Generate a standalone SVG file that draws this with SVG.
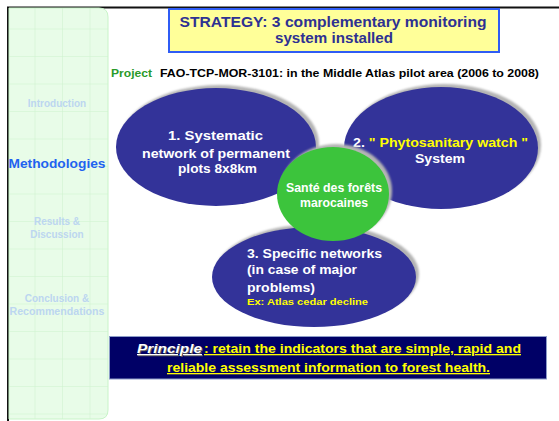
<svg xmlns="http://www.w3.org/2000/svg" width="559" height="421" viewBox="0 0 559 421">
  <style>
    .side { font-family: "Liberation Sans", Arial, sans-serif; font-size: 10px; font-weight: bold; text-anchor: middle; fill: #bcd6f0; }
    .sideOn { font-family: "Liberation Sans", Arial, sans-serif; font-size: 12.5px; font-weight: bold; text-anchor: middle; fill: #1f63f0; }
    .title { font-family: "Liberation Sans", Arial, sans-serif; font-size: 15px; font-weight: bold; text-anchor: middle; fill: #2e3192; }
    .proj { font-family: "Liberation Sans", Arial, sans-serif; font-size: 10px; font-weight: bold; }
    .node { fill: #333399; }
    .shadow { fill: #b4b4b4; }
    .w { font-family: "Liberation Sans", Arial, sans-serif; font-size: 12.5px; font-weight: bold; fill: #ffffff; }
    .y { font-family: "Liberation Sans", Arial, sans-serif; font-weight: bold; fill: #ffff00; }
    .pr { font-family: "Liberation Sans", Arial, sans-serif; font-size: 13px; font-weight: bold; text-decoration: underline; }
  </style>
  <defs>
    <pattern id="grid" width="27.5" height="27.5" patternUnits="userSpaceOnUse" x="8" y="2">
      <rect width="27.5" height="27.5" fill="#e8fce8"/>
      <path d="M27.5 0 V27.5 M0 27.5 H27.5" stroke="#cdf2cd" stroke-width="1" fill="none"/>
    </pattern>
    <filter id="soft" x="-10%" y="-10%" width="120%" height="120%">
      <feGaussianBlur stdDeviation="0.8"/>
    </filter>
  </defs>

  <rect width="559" height="421" fill="#ffffff"/>

  <!-- slide frame -->
  <path d="M8 421 V7.5 H559" fill="none" stroke="#111111" stroke-width="2"/>

  <!-- navigation panel -->
  <g id="nav">
    <path d="M9 8 H99 Q108 8 108 17 V410 Q108 419 99 419 H9 Z" fill="url(#grid)" stroke="#c8f4c8" stroke-width="1"/>
    <text class="side" x="57" y="107">Introduction</text>
    <text class="sideOn" x="57" y="168" textLength="97" lengthAdjust="spacingAndGlyphs">Methodologies</text>
    <text class="side" x="57" y="225">Results &amp;</text>
    <text class="side" x="57" y="238">Discussion</text>
    <text class="side" x="57" y="302">Conclusion &amp;</text>
    <text class="side" x="57" y="315" textLength="95" lengthAdjust="spacingAndGlyphs">Recommendations</text>
  </g>

  <!-- heading -->
  <g id="title">
    <rect x="169" y="9" width="330" height="43" fill="#ffff99" stroke="#2f5cf5" stroke-width="2"/>
    <text class="title" x="333" y="27" textLength="307" lengthAdjust="spacingAndGlyphs">STRATEGY: 3 complementary monitoring</text>
    <text class="title" x="334" y="43" textLength="118" lengthAdjust="spacingAndGlyphs">system installed</text>
  </g>

  <g id="project">
    <text class="proj" x="111" y="77" fill="#2a9a2a" textLength="41" lengthAdjust="spacingAndGlyphs">Project</text>
    <text class="proj" x="160" y="77" fill="#000000" textLength="379" lengthAdjust="spacingAndGlyphs">FAO-TCP-MOR-3101: in the Middle Atlas pilot area (2006 to 2008)</text>
  </g>

  <!-- network 1 -->
  <g id="systematic">
    <ellipse class="shadow" cx="219" cy="144" rx="100" ry="59" filter="url(#soft)"/>
    <ellipse class="node" cx="216" cy="147" rx="100" ry="59"/>
    <text class="w" x="168" y="140" textLength="95" lengthAdjust="spacingAndGlyphs">1.  Systematic</text>
    <text class="w" x="142" y="158" textLength="148" lengthAdjust="spacingAndGlyphs">network of permanent</text>
    <text class="w" x="178" y="173" textLength="79" lengthAdjust="spacingAndGlyphs">plots 8x8km</text>
  </g>

  <!-- network 2 -->
  <g id="phytosanitary">
    <ellipse class="shadow" cx="444" cy="145" rx="97" ry="61" filter="url(#soft)"/>
    <ellipse class="node" cx="441" cy="148" rx="97" ry="61"/>
    <text x="353" y="147" class="w" textLength="175" lengthAdjust="spacingAndGlyphs"><tspan fill="#ffffff">2. </tspan><tspan fill="#ffff00">" Phytosanitary watch "</tspan></text>
    <text class="w" x="415" y="163" textLength="50" lengthAdjust="spacingAndGlyphs">System</text>
  </g>

  <!-- network 3 -->
  <g id="specific">
    <ellipse class="shadow" cx="317" cy="274" rx="102" ry="50" filter="url(#soft)"/>
    <ellipse class="node" cx="314" cy="277" rx="102" ry="50"/>
    <text class="w" x="247" y="258" textLength="135" lengthAdjust="spacingAndGlyphs">3. Specific networks</text>
    <text class="w" x="247" y="274" textLength="110" lengthAdjust="spacingAndGlyphs">(in case of major</text>
    <text class="w" x="247" y="292" textLength="68" lengthAdjust="spacingAndGlyphs">problems)</text>
    <text class="y" x="247" y="305" font-size="9" textLength="121" lengthAdjust="spacingAndGlyphs">Ex: Atlas  cedar decline</text>
  </g>

  <!-- centre -->
  <g id="centre">
    <ellipse class="shadow" cx="336" cy="191" rx="56" ry="47" filter="url(#soft)"/>
    <ellipse cx="333" cy="194" rx="56" ry="47" fill="#3cc43c"/>
    <text class="w" x="334" y="192" font-size="10" text-anchor="middle" textLength="96" lengthAdjust="spacingAndGlyphs">Santé des forêts</text>
    <text class="w" x="334" y="207" font-size="10" text-anchor="middle" textLength="68" lengthAdjust="spacingAndGlyphs">marocaines</text>
  </g>

  <!-- principle banner -->
  <g id="principle">
    <rect x="109.5" y="336.5" width="437" height="42.5" fill="#000066" stroke="#8c9cc8" stroke-width="1"/>
    <text class="pr" x="138" y="354" fill="#555555" font-style="italic" textLength="65" lengthAdjust="spacingAndGlyphs">Principle</text>
    <text class="pr" x="137" y="353" fill="#ffffff" font-style="italic" textLength="65" lengthAdjust="spacingAndGlyphs">Principle</text>
    <text class="pr" x="204" y="353" fill="#ffff00" textLength="317" lengthAdjust="spacingAndGlyphs"> : retain the indicators that are simple, rapid and</text>
    <text class="pr" x="167" y="372" fill="#ffff00" textLength="323" lengthAdjust="spacingAndGlyphs">reliable assessment information to forest health.</text>
  </g>
</svg>
